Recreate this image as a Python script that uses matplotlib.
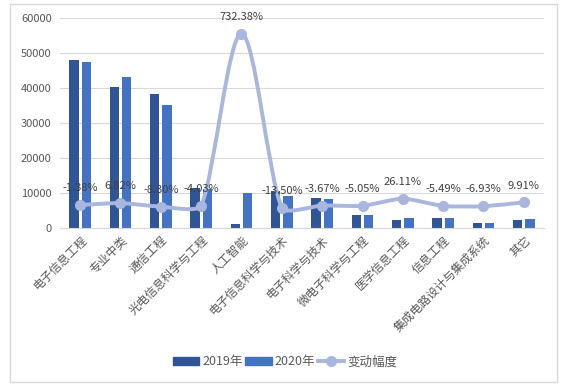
import matplotlib
matplotlib.use("Agg")
import matplotlib.pyplot as plt
import numpy as np
from matplotlib.path import Path
from matplotlib.patches import PathPatch, Rectangle, Patch
from matplotlib.lines import Line2D

plt.rcParams['font.family'] = ['Noto Sans CJK SC', 'DejaVu Sans']

categories = ["电子信息工程", "专业中类", "通信工程", "光电信息科学与工程", "人工智能",
              "电子信息科学与技术", "电子科学与技术", "微电子科学与工程", "医学信息工程",
              "信息工程", "集成电路设计与集成系统", "其它"]
v2019 = [48000, 40400, 38300, 11480, 1210, 10630, 8630, 3770, 2350, 2900, 1500, 2300]
v2020 = [47400, 43150, 35100, 11020, 10070, 9200, 8310, 3580, 2965, 2740, 1400, 2530]
change = [-1.38, 6.82, -8.30, -4.03, 732.38, -13.50, -3.67, -5.05, 26.11, -5.49, -6.93, 9.91]
change_labels = ["-1.38%", "6.82%", "-8.30%", "-4.03%", "732.38%", "-13.50%", "-3.67%",
                 "-5.05%", "26.11%", "-5.49%", "-6.93%", "9.91%"]
yticks = [0, 10000, 20000, 30000, 40000, 50000, 60000]
legend_labels = ["2019年", "2020年", "变动幅度"]

c2019 = "#2F5597"
c2020 = "#4472C4"
cline = "#A9B7DE"
tick_color = "#595959"
label_color = "#404040"

fig = plt.figure(figsize=(5.71, 3.9), dpi=100)
fig.patches.append(Rectangle((10/571, 1-382/390), 547/571, 378/390, transform=fig.transFigure,
                             fill=False, edgecolor="#D9D9D9", lw=1))
ax = fig.add_axes([60/571, 1-228/390, 484/571, 210/390])
x = np.arange(len(categories))
w = 0.235
ax.bar(x - 0.155, v2019, w, color=c2019, zorder=2)
ax.bar(x + 0.155, v2020, w, color=c2020, zorder=2)
ax.set_xlim(-0.5, len(categories) - 0.5)
ax.set_ylim(0, 60000)
ax.set_yticks(yticks)
ax.set_yticklabels([str(t) for t in yticks], fontsize=8, color=tick_color)
ax.yaxis.grid(True, color="#D9D9D9", lw=0.8, zorder=0)
ax.set_axisbelow(True)
ax.tick_params(axis='y', length=0, pad=6)
ax.tick_params(axis='x', length=0, pad=4)
for s in ["top", "right", "left"]:
    ax.spines[s].set_visible(False)
ax.spines["bottom"].set_color("#D9D9D9")
ax.set_xticks(x)
ax.set_xticklabels(categories, rotation=45, ha='right', va='top', rotation_mode='anchor',
                   fontsize=8.5, color=tick_color)

ax2 = ax.twinx()
ax2.set_ylim(-100, 800)
ax2.set_xlim(-0.5, len(categories) - 0.5)
ax2.axis('off')

# Excel-like smoothed line: cubic Bezier in display space with clamped control handles
P = ax2.transData.transform(np.column_stack([x.astype(float), change]))
n = len(P)
r = 0.2
verts = [P[0]]
codes = [Path.MOVETO]
for i in range(n - 1):
    p0 = P[i - 1] if i > 0 else P[i]
    p1 = P[i]
    p2 = P[i + 1]
    p3 = P[i + 2] if i + 2 < n else P[i + 1]
    d12 = np.hypot(*(p2 - p1))
    t1 = (p2 - p0) / 6
    t2 = (p3 - p1) / 6
    lim = d12 * r
    l1 = np.hypot(*t1)
    l2 = np.hypot(*t2)
    if l1 > lim:
        t1 = t1 * lim / l1
    if l2 > lim:
        t2 = t2 * lim / l2
    verts += [p1 + t1, p2 - t2, p2]
    codes += [Path.CURVE4] * 3
verts = ax2.transData.inverted().transform(np.array(verts))
ax2.add_patch(PathPatch(Path(verts, codes), fill=False, edgecolor=cline, lw=2.8,
                        capstyle='round', joinstyle='round', zorder=3))
ax2.plot(x, change, 'o', color=cline, ms=7, zorder=4)
for xi, yi, lab in zip(x, change, change_labels):
    ax2.annotate(lab, (xi, yi), xytext=(0, 8.5), textcoords='offset points',
                 ha='center', va='bottom', fontsize=8, color=label_color, zorder=5)

handles = [Patch(color=c2019), Patch(color=c2020),
           Line2D([], [], color=cline, lw=2.8, marker='o', ms=7)]
fig.legend(handles, legend_labels, loc='center', bbox_to_anchor=(285/571, 1-362/390),
           ncol=3, frameon=False, fontsize=9, handlelength=2.1, handleheight=0.55,
           columnspacing=0.2, handletextpad=0.25, labelcolor=tick_color)

fig.savefig("out.png", dpi=100)
